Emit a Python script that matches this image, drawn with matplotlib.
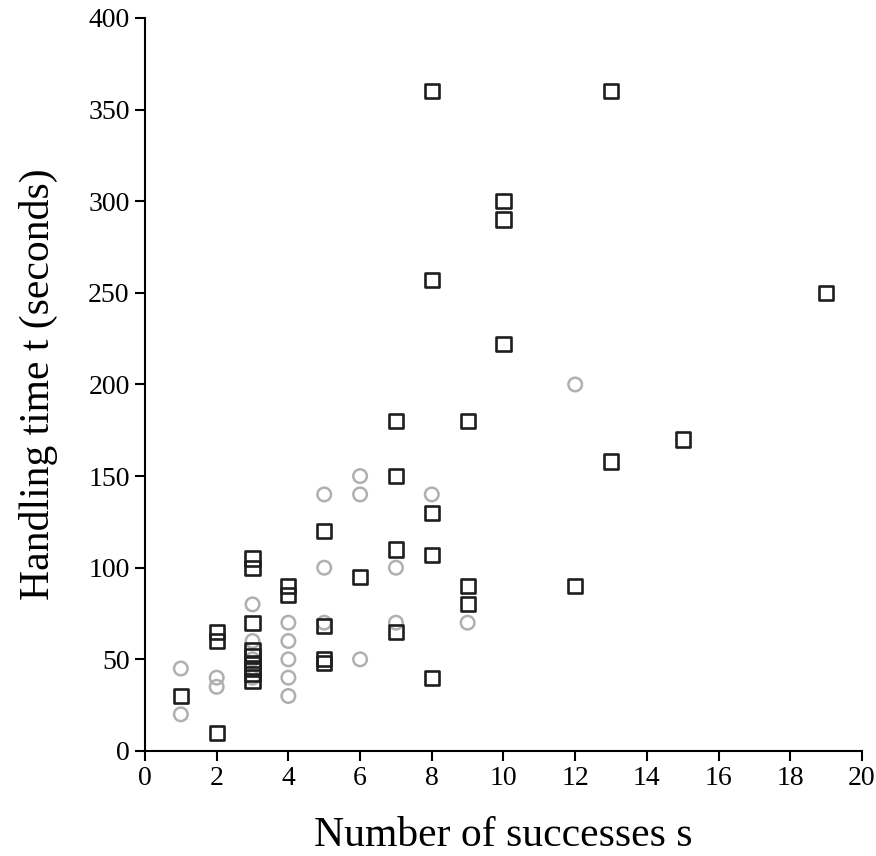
import matplotlib
matplotlib.use("Agg")
import matplotlib.pyplot as plt

# number of successes s vs handling time t, two groups
sq_s = [1, 2, 2, 2, 3, 3, 3, 3, 3, 3, 3, 3, 3, 4, 4, 5, 5, 5, 5, 6,
        7, 7, 7, 7, 8, 8, 8, 8, 8, 9, 9, 9, 10, 10, 10, 12, 13, 13, 15, 19]
sq_t = [30, 65, 60, 10, 105, 100, 70, 55, 52, 48, 45, 42, 38, 90, 85, 120, 68, 50, 48, 95,
        180, 150, 110, 65, 360, 257, 130, 107, 40, 180, 90, 80, 300, 290, 222, 90, 360, 158, 170, 250]

ci_s = [1, 1, 2, 2, 3, 3, 3, 3, 4, 4, 4, 4, 4, 5, 5, 5, 6, 6, 6, 7, 7, 8, 9, 12]
ci_t = [45, 20, 40, 35, 80, 60, 50, 40, 70, 60, 50, 40, 30, 140, 100, 70, 150, 140, 50, 100, 70, 140, 70, 200]

x_ticks = list(range(0, 21, 2))
y_ticks = list(range(0, 401, 50))

plt.rcParams["font.family"] = ["Liberation Serif", "DejaVu Serif"]

fig = plt.figure(figsize=(8.76, 8.56), dpi=100)
ax = fig.add_axes([0.1655, 0.1227, 0.8185, 0.8563])

ax.scatter(ci_s, ci_t, marker="o", s=95, facecolors="none",
           edgecolors="#b0b0b0", linewidths=1.8, zorder=2)
ax.scatter(sq_s, sq_t, marker="s", s=105, facecolors="none",
           edgecolors="#1e1e1e", linewidths=1.9, zorder=3)

ax.set_xlim(0, 20)
ax.set_ylim(0, 400)
ax.set_xticks(x_ticks)
ax.set_yticks(y_ticks)

for side in ("top", "right"):
    ax.spines[side].set_visible(False)
for side in ("left", "bottom"):
    ax.spines[side].set_linewidth(1.5)
ax.tick_params(direction="out", length=7, width=1.5, labelsize=20, pad=4)

ax.set_xlabel("Number of successes s", fontsize=30, labelpad=18)
ax.set_ylabel("Handling time t (seconds)", fontsize=30, labelpad=22)

fig.savefig("out.png", dpi=100)
